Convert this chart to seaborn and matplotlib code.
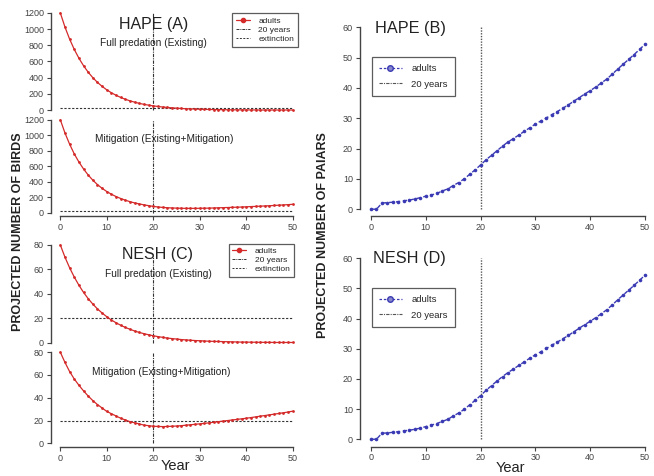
import numpy as np
import pandas as pd
import seaborn as sns
import matplotlib.pyplot as plt
from matplotlib.lines import Line2D

years = list(range(0, 51))

hape_full = [1200, 1026, 877, 750, 641, 548, 468, 400, 342, 293,
             250, 214, 183, 156, 134, 114, 98, 83, 71, 61,
             52, 45, 38, 33, 28, 24, 20, 17, 15, 13,
             11, 9, 8, 7, 6, 5, 4, 4, 3, 3,
             2, 2, 2, 1, 1, 1, 1, 1, 1, 1, 1]
hape_mitig = [1200, 1030, 885, 760, 655, 565, 487, 420, 363, 315,
              274, 239, 209, 184, 162, 143, 127, 114, 102, 92,
              82, 75, 69, 65, 62, 60, 58, 57, 57, 57,
              58, 59, 60, 62, 64, 66, 68, 70, 72, 74,
              77, 80, 82, 85, 88, 91, 94, 98, 101, 105, 109]
nesh_full = [80.0, 70.0, 61.3, 53.7, 47.0, 41.1, 36.0, 31.5, 27.6, 24.2,
             21.2, 18.5, 16.2, 14.2, 12.4, 10.9, 9.5, 8.3, 7.3, 6.4,
             5.6, 4.9, 4.3, 3.7, 3.3, 2.9, 2.5, 2.2, 1.9, 1.7,
             1.5, 1.3, 1.1, 1.0, 0.9, 0.8, 0.7, 0.6, 0.5, 0.4,
             0.4, 0.3, 0.3, 0.2, 0.2, 0.2, 0.1, 0.1, 0.1, 0.1, 0.1]
nesh_mitig = [80, 71, 63, 56.5, 51, 46, 41.5, 37.5, 34, 31,
              28, 26, 24, 22, 20.5, 19, 18, 17, 16, 15.5,
              15, 14.8, 14.7, 14.8, 15, 15.2, 15.5, 15.9, 16.3, 16.7,
              17.1, 17.5, 18, 18.5, 19, 19.5, 20, 20.5, 21, 21.5,
              22, 22.6, 23.2, 23.8, 24.4, 25, 25.6, 26.2, 26.8, 27.5, 28.2]
hape_pairs = [0, 0, 2, 2.2, 2.3, 2.5, 2.8, 3.0, 3.4, 3.8,
              4.3, 4.7, 5.2, 6.0, 6.7, 7.8, 8.8, 10.0, 11.5, 13.0,
              14.6, 16.3, 17.8, 19.3, 20.8, 22.2, 23.3, 24.5, 25.7, 26.9,
              28.1, 29.1, 30.1, 31.2, 32.2, 33.3, 34.4, 35.6, 36.8, 38.0,
              39.1, 40.3, 41.6, 42.9, 44.5, 46.2, 47.8, 49.4, 51.0, 52.7, 54.4]
nesh_pairs = [0, 0, 2, 2.1, 2.3, 2.5, 2.8, 3.0, 3.3, 3.7,
              4.2, 4.7, 5.2, 5.9, 6.6, 7.7, 8.7, 9.9, 11.4, 12.9,
              14.5, 16.2, 17.8, 19.3, 20.8, 22.1, 23.3, 24.5, 25.7, 26.9,
              28.0, 29.0, 30.1, 31.2, 32.2, 33.3, 34.4, 35.6, 36.8, 38.0,
              39.1, 40.3, 41.6, 42.9, 44.5, 46.2, 47.8, 49.4, 51.0, 52.7, 54.4]

extinction = 20
red = "#d42a2a"
blue = "#3a3ab4"
grey = "#444444"

sns.set_style("ticks")
plt.rcParams['font.family'] = ['Liberation Sans', 'DejaVu Sans']

W, H = 654, 476
fig = plt.figure(figsize=(W / 100, H / 100), dpi=100)


def px_axes(left, top, right, bottom):
    return fig.add_axes([left / W, 1 - bottom / H, (right - left) / W, (bottom - top) / H])


def style(ax, ymax, ystep, show_x):
    ax.set_xlim(-2, 52)
    ax.set_ylim(-0.04 * ymax, 1.04 * ymax)
    ax.set_yticks(np.arange(0, ymax + 1, ystep))
    ax.set_xticks([0, 10, 20, 30, 40, 50])
    ax.spines['top'].set_visible(False)
    ax.spines['right'].set_visible(False)
    ax.spines['left'].set_bounds(0, ymax)
    ax.spines['bottom'].set_bounds(0, 50)
    for s in ['left', 'bottom']:
        ax.spines[s].set_color(grey)
        ax.spines[s].set_linewidth(1.0)
    ax.tick_params(labelsize=6.5, colors=grey, length=3, width=0.8, pad=2)
    if not show_x:
        ax.spines['bottom'].set_visible(False)
        ax.tick_params(axis='x', bottom=False, labelbottom=False)
    ax.set_xlabel("")
    ax.set_ylabel("")


def left_panel(ax, vals, ymax, ystep, vtop, show_x):
    ax.hlines(extinction, 0, 50, color="#333333", linestyle=(0, (2, 1.5)), lw=0.8)
    ax.vlines(20, 0, vtop, color="#333333", linestyle=(0, (3, 1, 1, 1)), lw=0.8)
    sns.lineplot(x=years, y=vals, ax=ax, color=red, lw=0.9, marker='o',
                 markersize=2, markeredgewidth=0, legend=False)
    style(ax, ymax, ystep, show_x)


def right_panel(ax, vals):
    ax.vlines(20, 0, 60, color="#555555", linestyle=(0, (1, 1)), lw=1.0)
    sns.lineplot(x=years, y=vals, ax=ax, color=blue, lw=1.0, linestyle=(0, (3, 2)),
                 marker='o', markersize=2.6, markeredgewidth=0, legend=False)
    style(ax, 60, 10, True)


def legend(ax, handles, anchor, size, hlen, spacing, pad):
    leg = ax.legend(handles=handles, loc='upper left', fontsize=size,
                    frameon=True, fancybox=False, handlelength=hlen, borderpad=pad,
                    labelspacing=spacing, handletextpad=1.0, borderaxespad=0)
    leg.set_bbox_to_anchor((anchor[0] / W, 1 - anchor[1] / H), transform=fig.transFigure)
    leg.get_frame().set_edgecolor("#333333")
    leg.get_frame().set_linewidth(0.9)


left_handles = [
    Line2D([], [], color=red, lw=0.9, marker='o', markersize=3, label='adults'),
    Line2D([], [], color="#333333", lw=0.7, linestyle=(0, (3, 1, 1, 1)), label='20 years'),
    Line2D([], [], color="#333333", lw=0.7, linestyle=(0, (2, 1.5)), label='extinction'),
]
right_handles = [
    Line2D([], [], color=blue, lw=0.9, linestyle=(0, (2, 1.5)), marker='o', markersize=4,
           markerfacecolor="#8888cc", label='adults'),
    Line2D([], [], color="#555555", lw=0.8, linestyle=(0, (3, 1, 1, 1)), label='20 years'),
]

# left column: HAPE (A) and NESH (C)
axA1 = px_axes(51, 9, 302, 114)
left_panel(axA1, hape_full, 1200, 200, 1200, False)
axA2 = px_axes(51, 116, 302, 216.5)
left_panel(axA2, hape_mitig, 1200, 200, 1200, True)
axC1 = px_axes(51, 241, 302, 346.5)
left_panel(axC1, nesh_full, 80, 20, 70, False)
axC2 = px_axes(51, 348.5, 302, 447)
left_panel(axC2, nesh_mitig, 80, 20, 80, True)

legend(axA1, left_handles, (232, 13), 6, 1.7, 0.15, 0.45)
legend(axC1, left_handles, (229, 244), 6, 1.7, 0.15, 0.4)

# right column: HAPE (B) and NESH (D)
axB = px_axes(360, 20, 656, 216.5)
right_panel(axB, hape_pairs)
axD = px_axes(360, 251, 656, 446.5)
right_panel(axD, nesh_pairs)

legend(axB, right_handles, (372, 57), 6.8, 2.4, 0.7, 0.75)
legend(axD, right_handles, (372, 288), 6.8, 2.4, 0.7, 0.75)


def ftext(x, y, s, size, **kw):
    fig.text(x / W, 1 - y / H, s, fontsize=size, ha='center', va='center', color="#222222", **kw)


ftext(154, 25, "HAPE (A)", 11.5)
ftext(153, 43, "Full predation (Existing)", 7.3)
ftext(164, 139, "Mitigation (Existing+Mitigation)", 7.3)
ftext(158, 254, "NESH (C)", 11.5)
ftext(158, 274, "Full predation (Existing)", 7.3)
ftext(161, 372, "Mitigation (Existing+Mitigation)", 7.3)
ftext(410, 28, "HAPE (B)", 11.7)
ftext(409, 259, "NESH (D)", 11.7)
ftext(175, 466, "Year", 10.5)
ftext(510, 468, "Year", 10.5)
ftext(18, 232, "PROJECTED NUMBER OF BIRDS", 9, rotation=90, fontweight='bold')
ftext(323, 235, "PROJECTED NUMBER OF PAIARS", 9, rotation=90, fontweight='bold')

fig.savefig("out.png", dpi=100)
